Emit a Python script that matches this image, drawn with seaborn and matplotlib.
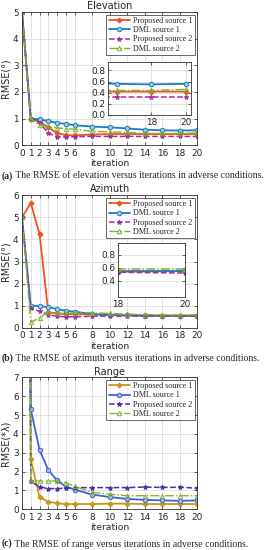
import numpy as np
import pandas as pd
import matplotlib
matplotlib.use("Agg")
import matplotlib.pyplot as plt
import seaborn as sns

sns.set_style("ticks")
plt.rcParams['font.family'] = ['DejaVu Sans']

iters = [0, 1, 2, 3, 4, 5, 6, 8, 10, 12, 14, 16, 18, 20]
xticks = [0, 1, 2, 3, 4, 5, 6, 8, 10, 12, 14, 16, 18, 20]
labels = ["Proposed source 1", "DML source 1", "Proposed source 2", "DML source 2"]

# elevation RMSE (deg)
elev_prop1 = [5.0, 1.0, 0.88, 0.68, 0.45, 0.38, 0.37, 0.40, 0.42, 0.42, 0.42, 0.42, 0.42, 0.42]
elev_dml1 = [5.0, 1.0, 0.97, 0.90, 0.84, 0.80, 0.75, 0.70, 0.67, 0.63, 0.58, 0.56, 0.55, 0.56]
elev_prop2 = [5.0, 1.0, 0.85, 0.45, 0.32, 0.30, 0.32, 0.33, 0.33, 0.33, 0.33, 0.33, 0.33, 0.33]
elev_dml2 = [5.0, 1.0, 0.75, 0.70, 0.65, 0.62, 0.60, 0.52, 0.50, 0.48, 0.45, 0.44, 0.44, 0.46]

# azimuth RMSE (deg)
azi_prop1 = [5.0, 5.65, 4.25, 0.70, 0.65, 0.62, 0.62, 0.60, 0.58, 0.57, 0.56, 0.55, 0.55, 0.55]
azi_dml1 = [5.0, 1.0, 0.98, 0.93, 0.85, 0.77, 0.73, 0.62, 0.58, 0.56, 0.55, 0.55, 0.54, 0.55]
azi_prop2 = [5.0, 0.88, 0.75, 0.60, 0.52, 0.50, 0.50, 0.52, 0.53, 0.53, 0.53, 0.53, 0.53, 0.52]
azi_dml2 = [5.0, 0.25, 0.45, 0.72, 0.65, 0.65, 0.68, 0.68, 0.65, 0.62, 0.60, 0.58, 0.58, 0.58]

# range RMSE (lambda), first point is far off the scale
rng_prop1 = [100.0, 2.65, 0.65, 0.40, 0.32, 0.28, 0.28, 0.28, 0.30, 0.30, 0.28, 0.28, 0.28, 0.28]
rng_dml1 = [100.0, 5.30, 3.15, 2.08, 1.53, 1.20, 1.05, 0.78, 0.65, 0.55, 0.50, 0.47, 0.45, 0.47]
rng_prop2 = [100.0, 1.50, 1.18, 1.10, 1.10, 1.12, 1.15, 1.15, 1.15, 1.15, 1.18, 1.16, 1.17, 1.12]
rng_dml2 = [100.0, 1.50, 1.50, 1.50, 1.50, 1.40, 1.22, 0.90, 0.80, 0.72, 0.72, 0.72, 0.72, 0.72]

styles_ae = [
    dict(color='#F4511E', ls='-', marker='D', ms=2.6, mfc='#F4511E', lw=1.3),
    dict(color='#1A7DBF', ls='-', marker='o', ms=3.2, mfc='#9CCBEA', lw=1.3),
    dict(color='#A0309E', ls='--', marker='*', ms=3.5, mfc='#A0309E', lw=1.1),
    dict(color='#7AB32E', ls='-.', marker='^', ms=3.2, mfc='none', lw=1.0),
]
styles_r = [
    dict(color='#C8961E', ls='-', marker='D', ms=2.6, mfc='#C8961E', lw=1.3),
    dict(color='#3F5FD6', ls='-', marker='o', ms=3.2, mfc='#A9B8EE', lw=1.3),
    dict(color='#4A2D9E', ls='--', marker='*', ms=3.5, mfc='#4A2D9E', lw=1.1),
    dict(color='#86B33A', ls='-.', marker='^', ms=3.2, mfc='none', lw=1.0),
]


def draw(ax, series, styles, legend=True):
    for y, lab, st in zip(series, labels, styles):
        st = dict(st)
        c = st.pop('color')
        ls = st.pop('ls')
        sns.lineplot(x=iters, y=y, ax=ax, color=c, linestyle=ls, label=lab if legend else None,
                     markeredgecolor=c, markeredgewidth=0.7, **st)


def style_main(ax, ylim, title, ylabel):
    ax.set_xlim(0, 20)
    ax.set_ylim(*ylim)
    ax.set_xticks(xticks)
    ax.set_yticks(range(int(ylim[1]) + 1))
    ax.grid(True, color='#DDDDDD', lw=0.6)
    ax.tick_params(labelsize=6.4, length=2, width=0.5, pad=2.5, direction='in', top=True, right=True)
    ax.set_title(title, fontsize=7, pad=2)
    ax.set_xlabel("iteration", fontsize=6.7, labelpad=1.2)
    ax.set_ylabel(ylabel, fontsize=6.9, labelpad=1.5)
    for s in ax.spines.values():
        s.set_linewidth(0.6)
        s.set_color('#333333')
    leg = ax.legend(loc='upper right', prop={'family': 'Liberation Serif', 'size': 5.9},
                    frameon=True, fancybox=False, handlelength=2.6, borderpad=0.3,
                    labelspacing=0.15, handletextpad=0.4, borderaxespad=0.3)
    leg.get_frame().set_edgecolor('#222222')
    leg.get_frame().set_linewidth(0.6)


def style_inset(ax, xlim, ylim, yticks):
    ax.set_xlim(*xlim)
    ax.set_ylim(*ylim)
    ax.set_xticks([18, 20])
    ax.set_yticks(yticks)
    ax.grid(True, color='#DDDDDD', lw=0.6)
    ax.tick_params(labelsize=6.4, length=2, width=0.5, pad=2, direction='in', top=True, right=True)
    ax.set_xlabel("")
    ax.set_ylabel("")
    for s in ax.spines.values():
        s.set_linewidth(0.6)
        s.set_color('#333333')


fig = plt.figure(figsize=(2.65, 5.5), dpi=100)

ax1 = fig.add_axes([0.083, 0.736, 0.662, 0.242])
draw(ax1, [elev_prop1, elev_dml1, elev_prop2, elev_dml2], styles_ae)
style_main(ax1, (0, 5), "Elevation", "RMSE(°)")
in1 = fig.add_axes([0.408, 0.791, 0.313, 0.096])
draw(in1, [elev_prop1, elev_dml1, elev_prop2, elev_dml2], styles_ae, legend=False)
style_inset(in1, (15.5, 20.3), (0, 0.95), [0, 0.2, 0.4, 0.6, 0.8])

ax2 = fig.add_axes([0.083, 0.404, 0.662, 0.241])
draw(ax2, [azi_prop1, azi_dml1, azi_prop2, azi_dml2], styles_ae)
style_main(ax2, (0, 6), "Azimuth", "RMSE(°)")
in2 = fig.add_axes([0.445, 0.46, 0.253, 0.098])
draw(in2, [azi_prop1, azi_dml1, azi_prop2, azi_dml2], styles_ae, legend=False)
style_inset(in2, (18, 20), (0.15, 0.98), [0.4, 0.6, 0.8])

ax3 = fig.add_axes([0.083, 0.074, 0.662, 0.24])
draw(ax3, [rng_prop1, rng_dml1, rng_prop2, rng_dml2], styles_r)
style_main(ax3, (0, 7), "Range", "RMSE(*λ)")

captions = [
    (0.68, "(a)", " The RMSE of elevation versus iterations in adverse conditions."),
    (0.349, "(b)", " The RMSE of azimuth versus iterations in adverse conditions."),
    (0.0115, "(c)", " The RMSE of range versus iterations in adverse conditions."),
]
for y, tag, txt in captions:
    t = fig.text(0.006, y, tag, fontsize=7.0, family='Liberation Serif', weight='bold', va='center')
    fig.canvas.draw()
    bb = t.get_window_extent()
    fig.text(bb.x1 / fig.bbox.width, y, txt, fontsize=7.0, family='Liberation Serif', va='center')

fig.savefig("out.png", dpi=100)
